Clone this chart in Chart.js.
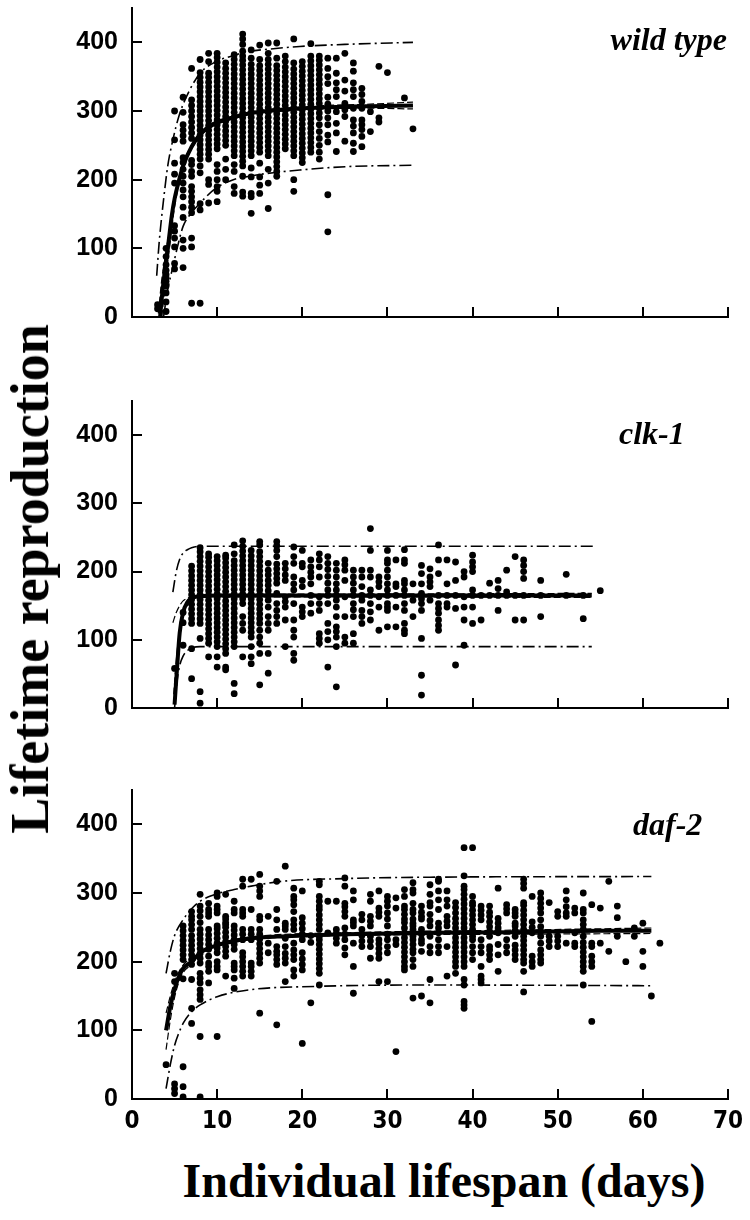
<!DOCTYPE html>
<html>
<head>
<meta charset="utf-8">
<script src="https://cdn.jsdelivr.net/npm/chart.js@4"></script>
<style>
  body { margin: 0; background: #fff; }
  #wrap { position: relative; width: 750px; height: 1220px; overflow: hidden; }
  canvas { position: absolute; left: 0; }
  .title { position: absolute; font: italic bold 32px "Liberation Serif", serif; line-height: 1; white-space: nowrap; color: #000; }
  .axis { position: absolute; font: bold 48px "Liberation Serif", serif; line-height: 1; white-space: nowrap; color: #000; }
</style>
</head>
<body>
<div id="wrap">
  <canvas id="wild" width="750" height="330" style="top:0"></canvas>
  <canvas id="clk" width="750" height="330" style="top:390px"></canvas>
  <canvas id="daf" width="750" height="360" style="top:780px"></canvas>
  <div class="title" style="right:23px;top:23px">wild type</div>
  <div class="title" style="left:619px;top:417px">clk-1</div>
  <div class="title" style="left:633px;top:808px">daf-2</div>
  <div class="axis" style="left:30px;top:579px;font-size:54px;transform:translate(-50%,-50%) rotate(-90deg)">Lifetime reproduction</div>
  <div class="axis" style="left:444px;top:1181px;transform:translate(-50%,-50%)">Individual lifespan (days)</div>
</div>
<script>
const xTicks = [0, 10, 20, 30, 40, 50, 60, 70];
const yTicks = [0, 100, 200, 300, 400];

// scatter columns: [lifespan day, [lifetime reproduction values]]
const wildCols = [
  [3, [12, 18]],
  [4, [8, 22, 35, 45, 52, 57, 62, 68, 76, 88, 100]],
  [5, [70, 78, 102, 115, 125, 133, 195, 208, 224, 258, 300]],
  [6, [72, 100, 112, 145, 160, 175, 185, 195, 205, 215, 225, 232, 256, 264, 272, 280, 298, 320]],
  [7, [20, 102, 115, 152, 160, 168, 175, 183, 190, 205, 212, 222, 228, 260, 268, 276, 284, 292, 300, 308, 316, 362]],
  [8, [20, 156, 165, 210, 220, 230, 237, 244, 251, 258, 265, 272, 279, 286, 293, 300, 307, 314, 321, 328, 335, 342, 349, 356, 375]],
  [9, [166, 193, 200, 230, 237, 244, 251, 258, 265, 272, 279, 286, 293, 300, 307, 314, 321, 328, 335, 342, 349, 355, 372, 384]],
  [10, [168, 183, 190, 200, 212, 222, 245, 252, 259, 266, 273, 280, 287, 294, 301, 308, 315, 322, 329, 336, 343, 350, 357, 364, 371, 378, 384]],
  [11, [200, 215, 230, 250, 257, 264, 271, 278, 285, 292, 299, 306, 313, 320, 327, 334, 341, 348, 355, 362, 370]],
  [12, [180, 190, 212, 222, 235, 242, 249, 256, 263, 270, 277, 284, 291, 298, 305, 312, 319, 326, 333, 340, 347, 354, 361, 368, 375, 382]],
  [13, [176, 182, 205, 220, 227, 234, 241, 248, 255, 262, 269, 276, 283, 290, 297, 304, 311, 318, 325, 332, 339, 346, 353, 360, 367, 374, 380, 387, 397, 405, 412]],
  [14, [151, 175, 180, 204, 217, 235, 242, 249, 256, 263, 270, 277, 284, 291, 298, 305, 312, 319, 326, 333, 340, 347, 354, 361, 368, 377, 389]],
  [15, [180, 192, 204, 224, 240, 247, 254, 261, 268, 275, 282, 289, 296, 303, 310, 317, 324, 331, 338, 345, 352, 359, 366, 375, 396]],
  [16, [158, 195, 215, 235, 242, 249, 256, 263, 270, 277, 284, 291, 298, 305, 312, 319, 326, 333, 340, 347, 354, 361, 368, 375, 384, 399]],
  [17, [205, 212, 219, 226, 233, 240, 247, 254, 261, 268, 275, 282, 289, 296, 303, 310, 317, 324, 331, 338, 345, 352, 359, 366, 377, 399]],
  [18, [245, 252, 259, 266, 273, 280, 287, 294, 301, 308, 315, 322, 329, 336, 343, 350, 357, 364, 372, 380]],
  [19, [183, 200, 235, 242, 249, 256, 263, 270, 277, 284, 291, 298, 305, 312, 319, 326, 333, 340, 347, 354, 361, 370, 405]],
  [20, [225, 232, 239, 246, 253, 260, 267, 274, 281, 288, 295, 302, 309, 316, 323, 330, 337, 344, 351, 358, 365, 372]],
  [21, [240, 247, 254, 261, 268, 275, 282, 289, 296, 303, 310, 317, 324, 331, 338, 345, 352, 359, 366, 373, 380, 398]],
  [22, [230, 240, 250, 260, 270, 280, 290, 297, 304, 311, 318, 325, 332, 339, 346, 353, 360, 367, 374, 380]],
  [23, [124, 178, 255, 265, 280, 290, 300, 310, 320, 340, 350, 362, 377]],
  [24, [241, 268, 282, 299, 321, 331, 341, 355, 377]],
  [25, [256, 292, 302, 311, 329, 345, 384]],
  [26, [241, 253, 268, 278, 287, 304, 321, 331, 341, 358, 370]],
  [27, [248, 263, 273, 280, 287, 304, 314, 324, 333]],
  [28, [270, 299]],
  [29, [284, 290, 365]],
  [30, [356]],
  [32, [319]],
  [33, [274]]
];
const wildMean = [[3.3, 0], [3.6, 40], [4, 80], [4.3, 110], [4.7, 150], [5, 172], [5.5, 198], [6, 220], [7, 248], [8, 266], [9, 276], [10, 283], [12, 291], [14, 297], [16, 300], [18, 302], [20, 304], [24, 306], [28, 307], [33, 308]];
const wildCiUpper = [[3.1, 5], [3.5, 55], [4, 95], [4.5, 135], [5, 170], [6, 222], [8, 268], [12, 293], [20, 306], [28, 310], [33, 313]];
const wildCiLower = [[3.5, 0], [4, 60], [4.5, 110], [5, 160], [6, 215], [8, 263], [12, 289], [20, 302], [28, 304], [33, 303]];
const wildBandUpper = [[2.9, 60], [3.2, 110], [3.7, 170], [4.2, 220], [4.8, 258], [5.5, 292], [6.4, 321], [8, 355], [9.9, 372], [12, 381], [13.8, 387], [16, 390], [19.7, 394], [25, 397], [33, 400]];
const wildBandLower = [[3.7, 0], [4.2, 40], [4.8, 73], [5.4, 105], [6, 132], [7, 152], [8, 166], [9.9, 188], [11.9, 200], [13.8, 205], [15.8, 209], [19.7, 214], [25.2, 219], [33, 221]];

const clkCols = [
  [5, [58]],
  [6, [92, 125, 140]],
  [7, [43, 87, 124, 131, 138, 145, 152, 159, 166, 173, 180, 187, 194, 201, 208]],
  [8, [7, 24, 102, 124, 131, 138, 145, 152, 159, 166, 173, 180, 187, 194, 201, 208, 215, 222, 229, 235]],
  [9, [75, 95, 102, 109, 116, 123, 130, 137, 144, 151, 158, 165, 172, 179, 186, 193, 200, 207, 214, 221, 226]],
  [10, [60, 75, 90, 97, 104, 111, 118, 125, 132, 139, 146, 153, 160, 167, 174, 181, 188, 195, 202, 209, 216, 222]],
  [11, [56, 60, 80, 87, 94, 101, 108, 115, 122, 129, 136, 143, 150, 157, 164, 171, 178, 185, 192, 199, 206, 213, 220, 224]],
  [12, [21, 36, 90, 97, 104, 111, 118, 125, 132, 139, 146, 153, 160, 167, 174, 181, 188, 195, 202, 209, 216, 226, 239]],
  [13, [75, 114, 124, 134, 153, 160, 167, 174, 181, 188, 195, 202, 209, 216, 223, 230, 237, 245]],
  [14, [65, 75, 90, 104, 111, 118, 125, 132, 139, 146, 153, 160, 167, 174, 181, 188, 195, 202, 209, 216, 223, 231]],
  [15, [34, 80, 95, 104, 114, 124, 131, 138, 145, 152, 159, 166, 173, 180, 187, 194, 201, 208, 215, 222, 229, 239, 244]],
  [16, [51, 80, 114, 124, 134, 148, 158, 165, 172, 180, 187, 195, 202, 212]],
  [17, [124, 134, 143, 153, 168, 183, 190, 197, 204, 211, 222, 231, 238, 244]],
  [18, [90, 129, 148, 156, 163, 187, 195, 204, 212]],
  [19, [70, 80, 104, 114, 129, 153, 173, 182, 192, 212, 222, 236]],
  [20, [134, 141, 148, 178, 187, 207, 212, 231]],
  [21, [139, 153, 165, 182, 192, 199, 207, 217]],
  [22, [95, 102, 109, 143, 153, 163, 192, 207, 217, 226]],
  [23, [60, 100, 112, 124, 153, 165, 173, 183, 193, 203, 212, 222]],
  [24, [31, 90, 104, 112, 119, 134, 148, 158, 165, 173, 182, 192, 202, 212]],
  [25, [95, 104, 134, 163, 187, 202, 210, 217]],
  [26, [95, 109, 134, 144, 153, 165, 173, 183, 192, 202]],
  [27, [124, 134, 143, 158, 165, 178, 192, 202]],
  [28, [129, 141, 153, 165, 173, 192, 202, 231, 263]],
  [29, [114, 148, 163, 178, 185, 192]],
  [30, [119, 143, 148, 153, 165, 173, 182, 192, 202, 212, 217, 231]],
  [31, [119, 148, 165, 178, 182, 217]],
  [32, [109, 114, 124, 143, 153, 165, 173, 182, 187, 212, 217, 232]],
  [33, [134, 158, 182]],
  [34, [19, 48, 102, 143, 153, 160, 168, 182, 197, 209]],
  [35, [158, 178, 185, 192, 204]],
  [36, [114, 121, 129, 139, 146, 153, 165, 197, 217, 239]],
  [37, [148, 153, 165, 182, 217]],
  [38, [63, 146, 165, 187, 214]],
  [39, [92, 129, 148, 163, 192, 200]],
  [40, [124, 148, 165, 173, 200, 207, 214, 224]],
  [41, [129, 165]],
  [42, [165, 183]],
  [43, [143, 165, 175, 187]],
  [44, [165, 170, 202]],
  [45, [129, 165, 222]],
  [46, [129, 165, 190, 200, 209, 217]],
  [48, [134, 165, 187]],
  [51, [165, 196]],
  [53, [131, 165]],
  [55, [172]]
];
const clkMean = [[5, 5], [5.3, 60], [5.6, 110], [6, 140], [6.5, 155], [7, 161], [8, 164], [10, 165], [20, 165], [30, 165], [40, 165], [54, 165]];
const clkCiUpper = [[4.8, 125], [5.2, 140], [5.6, 150], [6, 157], [7, 163], [8, 166], [20, 167], [54, 168]];
const clkCiLower = [[4.9, 20], [5.2, 70], [5.6, 115], [6, 138], [6.5, 150], [7, 158], [8, 162], [20, 163], [54, 162]];
const clkBandUpper = [[4.8, 170], [5.2, 200], [5.6, 218], [6, 227], [6.5, 232], [7, 235], [8, 237], [20, 237], [54.5, 237]];
const clkBandLower = [[5, 0], [5.3, 40], [5.6, 62], [6, 76], [6.5, 84], [7, 88], [8, 90], [20, 90], [54, 90]];

const dafCols = [
  [4, [50]],
  [5, [8, 15, 22, 171, 183]],
  [6, [3, 18, 47, 175, 203, 210, 217, 224, 231, 238, 245, 252]],
  [7, [110, 132, 174, 196, 203, 210, 217, 224, 231, 238, 247, 254, 261, 266, 273]],
  [8, [3, 91, 145, 152, 159, 169, 176, 183, 198, 205, 212, 219, 226, 233, 240, 247, 257, 266, 274, 281, 298]],
  [9, [169, 186, 193, 198, 208, 218, 225, 232, 239, 247, 266, 271, 276, 285]],
  [10, [91, 188, 193, 200, 213, 220, 227, 234, 241, 248, 252, 271, 276, 281, 295, 300]],
  [11, [179, 208, 215, 222, 229, 236, 243, 250, 254, 257, 262, 266, 298]],
  [12, [161, 176, 188, 193, 198, 218, 225, 232, 239, 246, 252, 271, 276, 288]],
  [13, [179, 186, 193, 200, 207, 213, 232, 240, 247, 266, 271, 276, 310, 320]],
  [14, [179, 186, 193, 198, 232, 240, 247, 276, 320]],
  [15, [125, 198, 205, 212, 219, 226, 233, 240, 247, 261, 266, 295, 303, 310, 327]],
  [16, [213, 227, 266]],
  [17, [108, 196, 203, 210, 215, 222, 247, 261, 276, 317]],
  [18, [171, 198, 205, 212, 222, 234, 247, 252, 256, 339]],
  [19, [179, 188, 203, 210, 217, 227, 247, 254, 261, 273, 283, 290, 295, 307]],
  [20, [81, 188, 196, 204, 213, 232, 240, 248, 256, 264, 303]],
  [21, [140, 228, 238]],
  [22, [166, 183, 190, 197, 204, 211, 218, 225, 232, 237, 247, 254, 261, 268, 276, 281, 288, 295, 312, 317]],
  [23, [242, 288]],
  [24, [227, 234, 241, 247, 288]],
  [25, [210, 220, 232, 240, 249, 266, 273, 280, 285, 310, 322]],
  [26, [154, 193, 227, 252, 257, 261, 290, 303]],
  [27, [222, 230, 238, 247, 261, 269]],
  [28, [205, 222, 230, 237, 252, 259, 266, 288, 298]],
  [29, [171, 205, 212, 219, 226, 232, 266, 272, 278, 303]],
  [30, [171, 213, 222, 232, 240, 252, 262, 271, 281, 288, 295]],
  [31, [69, 225, 232, 278, 293]],
  [32, [188, 193, 200, 207, 214, 221, 228, 235, 242, 249, 257, 262, 269, 276, 281, 295, 305]],
  [33, [147, 193, 203, 213, 218, 225, 232, 237, 242, 247, 252, 256, 262, 271, 276, 285, 300, 305, 315]],
  [34, [150, 215, 227, 232, 240, 247, 262, 266, 272, 281]],
  [35, [140, 174, 213, 222, 237, 252, 260, 269, 281, 286, 298, 312]],
  [36, [213, 222, 232, 242, 249, 256, 276, 290, 303, 317, 320]],
  [37, [179, 222, 252, 259, 266, 281, 290, 303]],
  [38, [183, 193, 200, 207, 214, 221, 228, 235, 242, 249, 256, 263, 271, 279, 286]],
  [39, [132, 137, 142, 166, 174, 193, 200, 207, 214, 221, 228, 235, 242, 249, 256, 263, 270, 277, 284, 291, 298, 305, 310, 325, 366]],
  [40, [203, 213, 222, 232, 237, 247, 254, 261, 268, 275, 282, 286, 295, 366]],
  [41, [169, 174, 179, 193, 213, 222, 232, 261, 268, 275, 281]],
  [42, [203, 210, 217, 222, 237, 244, 251, 258, 266, 272, 281]],
  [43, [186, 210, 225, 242, 249, 256, 263, 307]],
  [44, [213, 222, 232, 271, 277, 283]],
  [45, [203, 210, 217, 224, 237, 245, 252, 256, 266, 271, 276]],
  [46, [156, 186, 198, 203, 210, 217, 224, 231, 237, 247, 254, 261, 268, 275, 282, 286, 307, 314, 320]],
  [47, [193, 200, 208, 242, 250, 258, 295]],
  [48, [198, 203, 210, 217, 227, 237, 244, 251, 261, 271, 278, 285, 292, 300]],
  [49, [222, 230, 237, 286]],
  [50, [222, 230, 237, 266, 273]],
  [51, [227, 266, 271, 280, 290, 303]],
  [52, [222, 227, 242, 271, 278]],
  [53, [166, 186, 193, 200, 207, 214, 221, 228, 237, 247, 254, 261, 271, 276, 300]],
  [54, [113, 193, 200, 208, 222, 227, 283]],
  [55, [227, 278]],
  [56, [215, 317]],
  [57, [237, 264, 281]],
  [58, [200]],
  [59, [237, 249]],
  [60, [193, 215, 256]],
  [61, [150]],
  [62, [227]]
];
const dafMean = [[4, 100], [4.5, 135], [5, 160], [5.5, 178], [6, 190], [7, 200], [8, 213], [10, 224], [12, 230], [14, 234], [18, 237], [25, 240], [35, 242], [45, 243], [55, 245], [61, 245]];
const dafCiUpper = [[4, 125], [4.5, 150], [5, 170], [5.5, 185], [6, 195], [7, 206], [8, 215], [10, 226], [14, 236], [25, 242], [45, 246], [61, 249]];
const dafCiLower = [[4, 72], [4.5, 115], [5, 148], [5.5, 170], [6, 184], [7, 196], [8, 210], [10, 222], [14, 232], [25, 238], [45, 240], [61, 241]];
const dafBandUpper = [[4, 183], [4.5, 215], [5, 238], [6, 261], [7, 277], [8, 288], [10, 299], [12, 305], [14, 310], [17.6, 317], [25, 321], [35, 323], [61, 324]];
const dafBandLower = [[4, 15], [4.5, 50], [5, 78], [5.5, 96], [6, 110], [7, 127], [8, 137], [10, 149], [13.8, 159], [21.6, 164], [36, 166], [61, 165]];

const toPts = pairs => pairs.map(([x, y]) => ({ x, y }));
const colPts = cols => cols.flatMap(([d, vals]) => vals.map(v => ({ x: d, y: v })));

// tick marks point inward, into the plot
const inwardTicks = {
  id: "inwardTicks",
  afterDraw(chart) {
    const { ctx, chartArea: a, scales: { x, y } } = chart;
    ctx.save();
    ctx.strokeStyle = "#000";
    ctx.lineWidth = 2;
    ctx.beginPath();
    xTicks.slice(1).forEach(v => {
      const px = Math.round(x.getPixelForValue(v));
      ctx.moveTo(px, a.bottom);
      ctx.lineTo(px, a.bottom - 10);
    });
    yTicks.slice(1).forEach(v => {
      const py = Math.round(y.getPixelForValue(v));
      ctx.moveTo(a.left, py);
      ctx.lineTo(a.left + 10, py);
    });
    ctx.stroke();
    ctx.restore();
  }
};

const lineSet = (pts, width, dash) => ({
  data: toPts(pts),
  showLine: true,
  borderColor: "#000",
  borderWidth: width,
  borderDash: dash,
  pointRadius: 0,
  cubicInterpolationMode: "monotone",
  fill: false
});

const makePanel = (id, cols, mean, ciUp, ciLo, bandUp, bandLo, areaTop, xHeight, showX) => {
  const ctx = document.getElementById(id).getContext("2d");
  return new Chart(ctx, {
    type: "scatter",
    data: {
      datasets: [
        lineSet(mean, 4, []),
        lineSet(ciUp, 1.2, [7, 3]),
        lineSet(ciLo, 1.2, [7, 3]),
        lineSet(bandUp, 1.6, [12, 4, 2, 4]),
        lineSet(bandLo, 1.6, [12, 4, 2, 4]),
        {
          data: colPts(cols),
          pointRadius: 3.4,
          pointBackgroundColor: "#000",
          pointBorderWidth: 0
        }
      ]
    },
    options: {
      responsive: false,
      animation: false,
      devicePixelRatio: 1,
      layout: { padding: { top: areaTop, right: 22, left: 0, bottom: 0 } },
      plugins: { legend: { display: false }, tooltip: { enabled: false } },
      scales: {
        x: {
          type: "linear",
          min: 0,
          max: 70,
          afterBuildTicks: s => { s.ticks = xTicks.map(v => ({ value: v })); },
          afterFit: s => { s.height = xHeight; s.paddingLeft = 0; s.paddingRight = 0; },
          grid: { display: false, drawTicks: false },
          border: { display: true, color: "#000", width: 2 },
          ticks: {
            display: showX,
            autoSkip: false,
            maxRotation: 0,
            padding: 8,
            color: "#000",
            font: { family: "'Liberation Sans Narrow', 'DejaVu Sans Condensed', 'Liberation Sans', sans-serif", size: 24, weight: "bold" }
          }
        },
        y: {
          min: 0,
          max: 450,
          afterBuildTicks: s => { s.ticks = yTicks.map(v => ({ value: v })); },
          afterFit: s => { s.width = 132; s.paddingTop = 0; s.paddingBottom = 0; },
          grid: { display: false, drawTicks: false },
          border: { display: true, color: "#000", width: 2 },
          ticks: {
            padding: 14,
            color: "#000",
            font: { family: "'Liberation Sans', Arial, sans-serif", size: 25, weight: "bold" }
          }
        }
      }
    },
    plugins: [inwardTicks]
  });
};

makePanel("wild", wildCols, wildMean, wildCiUpper, wildCiLower, wildBandUpper, wildBandLower, 8, 13, false);
makePanel("clk", clkCols, clkMean, clkCiUpper, clkCiLower, clkBandUpper, clkBandLower, 11, 12, false);
makePanel("daf", dafCols, dafMean, dafCiUpper, dafCiLower, dafBandUpper, dafBandLower, 10, 41, true);
</script>
</body>
</html>
